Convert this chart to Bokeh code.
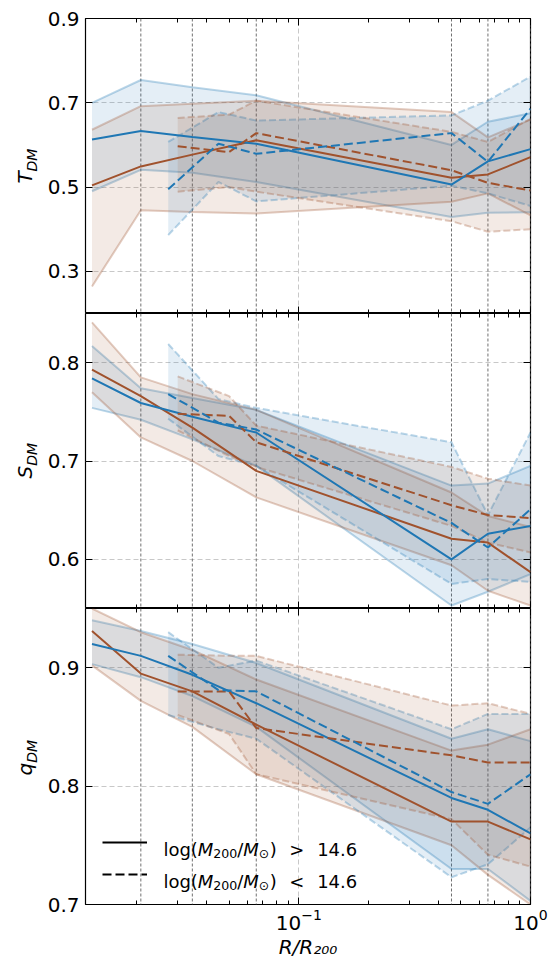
import numpy as np
from bokeh.plotting import figure
from bokeh.models import (LogAxis, LinearAxis, FixedTicker, LogTickFormatter, Span,
                          Legend, LegendItem, Label)
from bokeh.core.properties import value
from bokeh.layouts import column, row
from bokeh.embed import file_html
from bokeh.resources import INLINE

# ---------------- data ----------------
x_range = (0.012, 1.0)
x_major = [0.01, 0.1, 1.0]
x_minor = [0.02, 0.03, 0.04, 0.05, 0.06, 0.07, 0.08, 0.09,
           0.2, 0.3, 0.4, 0.5, 0.6, 0.7, 0.8, 0.9]
r_marks = [0.0208, 0.0347, 0.0655, 0.456, 0.655, 1.0]

r_solid = [0.0128, 0.0208, 0.0347, 0.0655, 0.456, 0.655, 1.0]
r_blue_dash = [0.0273, 0.045, 0.0655, 0.456, 0.655, 1.0]
r_brown_dash = [0.030, 0.050, 0.0655, 0.456, 0.655, 1.0]

# T_DM
T_blue_solid = [0.613, 0.633, 0.619, 0.603, 0.506, 0.561, 0.590]
T_blue_solid_hi = [0.700, 0.754, 0.737, 0.718, 0.600, 0.655, 0.675]
T_blue_solid_lo = [0.490, 0.541, 0.534, 0.512, 0.429, 0.439, 0.440]
T_brown_solid = [0.504, 0.549, 0.577, 0.611, 0.522, 0.530, 0.571]
T_brown_solid_hi = [0.636, 0.692, 0.698, 0.705, 0.678, 0.618, 0.660]
T_brown_solid_lo = [0.264, 0.445, 0.441, 0.437, 0.465, 0.485, 0.433]
T_blue_dash = [0.495, 0.603, 0.579, 0.628, 0.560, 0.686]
T_blue_dash_hi = [0.607, 0.678, 0.658, 0.670, 0.705, 0.762]
T_blue_dash_lo = [0.386, 0.512, 0.466, 0.503, 0.485, 0.455]
T_brown_dash = [0.597, 0.583, 0.628, 0.540, 0.510, 0.492]
T_brown_dash_hi = [0.664, 0.672, 0.705, 0.631, 0.607, 0.662]
T_brown_dash_lo = [0.489, 0.500, 0.489, 0.419, 0.394, 0.400]

# S_DM
S_blue_solid = [0.784, 0.759, 0.745, 0.729, 0.600, 0.626, 0.634]
S_blue_solid_hi = [0.817, 0.774, 0.764, 0.752, 0.675, 0.677, 0.695]
S_blue_solid_lo = [0.754, 0.742, 0.722, 0.695, 0.553, 0.567, 0.585]
S_brown_solid = [0.793, 0.766, 0.734, 0.690, 0.621, 0.617, 0.587]
S_brown_solid_hi = [0.841, 0.785, 0.768, 0.752, 0.668, 0.644, 0.633]
S_brown_solid_lo = [0.770, 0.724, 0.700, 0.663, 0.594, 0.568, 0.553]
S_blue_dash = [0.768, 0.739, 0.732, 0.637, 0.612, 0.651]
S_blue_dash_hi = [0.819, 0.763, 0.754, 0.719, 0.645, 0.729]
S_blue_dash_lo = [0.743, 0.705, 0.695, 0.575, 0.580, 0.577]
S_brown_dash = [0.748, 0.746, 0.719, 0.655, 0.645, 0.642]
S_brown_dash_hi = [0.786, 0.766, 0.736, 0.694, 0.682, 0.675]
S_brown_dash_lo = [0.731, 0.705, 0.694, 0.634, 0.617, 0.607]

# q_DM
q_blue_solid = [0.920, 0.910, 0.894, 0.870, 0.790, 0.780, 0.760]
q_blue_solid_hi = [0.940, 0.931, 0.920, 0.904, 0.840, 0.848, 0.838]
q_blue_solid_lo = [0.903, 0.892, 0.876, 0.850, 0.730, 0.730, 0.703]
q_brown_solid = [0.931, 0.895, 0.880, 0.852, 0.770, 0.770, 0.755]
q_brown_solid_hi = [0.950, 0.930, 0.915, 0.890, 0.830, 0.835, 0.848]
q_brown_solid_lo = [0.902, 0.872, 0.850, 0.810, 0.750, 0.725, 0.700]
q_blue_dash = [0.910, 0.881, 0.880, 0.795, 0.785, 0.810]
q_blue_dash_hi = [0.930, 0.900, 0.906, 0.848, 0.861, 0.861]
q_blue_dash_lo = [0.860, 0.848, 0.840, 0.723, 0.734, 0.765]
q_brown_dash = [0.880, 0.880, 0.849, 0.826, 0.820, 0.820]
q_brown_dash_hi = [0.911, 0.910, 0.910, 0.868, 0.870, 0.861]
q_brown_dash_lo = [0.860, 0.844, 0.810, 0.772, 0.742, 0.732]

T_ylim = (0.2, 0.9)
S_ylim = (0.55, 0.85)
q_ylim = (0.7, 0.95)
T_ticks = [0.3, 0.5, 0.7, 0.9]
S_ticks = [0.6, 0.7, 0.8]
q_ticks = [0.7, 0.8, 0.9]

x_title = "R/R₂₀₀"
legend_relations = [">", "<"]
legend_threshold = "14.6"

# ---------------- style / layout constants ----------------
BLUE = "#1f77b4"
BROWN = "#a0522d"
FONT = "DejaVu Sans"
DASH = "9 4"
EDGE_DASH = "7 3"

STRIP_W = 44          # left strip holding the y-axis titles
BORDER_L = 40         # frame starts at 84 px
BORDER_R = 20
FRAME_W = 446
FRAME_H = 295
TOTAL_H = 961
P3_BOTTOM = TOTAL_H - (18 + FRAME_H) - FRAME_H - (FRAME_H + 1)


def style_axis(ax, show_labels):
    ax.axis_line_color = None
    ax.major_tick_in = 7
    ax.major_tick_out = 0
    ax.minor_tick_in = 4
    ax.minor_tick_out = 0
    ax.major_tick_line_color = "black"
    ax.minor_tick_line_color = "black"
    ax.major_tick_line_width = 1
    ax.minor_tick_line_width = 1
    if show_labels:
        ax.major_label_text_font = FONT
        ax.major_label_text_font_size = "20px"
        ax.major_label_text_color = "black"
    else:
        ax.major_label_text_font_size = "0px"
        ax.major_label_text_color = None
        ax.major_label_standoff = 0


def x_ticker():
    return FixedTicker(ticks=x_major, minor_ticks=x_minor)


def make_panel(ylim, yticks, border_top, border_bottom, frame_h, xlabels):
    p = figure(width=BORDER_L + FRAME_W + BORDER_R,
               height=border_top + frame_h + border_bottom,
               x_axis_type="log", x_range=x_range, y_range=ylim,
               output_backend="svg", toolbar_location=None,
               min_border_left=BORDER_L, min_border_right=BORDER_R,
               min_border_top=border_top, min_border_bottom=border_bottom)
    p.outline_line_color = "black"
    p.outline_line_width = 1.2
    p.background_fill_color = "white"
    p.border_fill_color = "white"

    left = p.left[0]
    left.ticker = FixedTicker(ticks=yticks, minor_ticks=[])
    style_axis(left, True)
    left.major_label_standoff = 6

    bottom = p.below[0]
    bottom.ticker = x_ticker()
    bottom.formatter = LogTickFormatter()
    style_axis(bottom, xlabels)
    if xlabels:
        bottom.major_label_standoff = 4

    top = LogAxis(ticker=x_ticker())
    style_axis(top, False)
    p.add_layout(top, "above")
    right = LinearAxis(ticker=FixedTicker(ticks=yticks, minor_ticks=[]))
    style_axis(right, False)
    p.add_layout(right, "right")

    for g in (p.xgrid[0], p.ygrid[0]):
        g.grid_line_color = "#c8c8c8"
        g.grid_line_dash = "5 3"
        g.grid_line_width = 1

    for xm in r_marks:
        p.add_layout(Span(location=xm, dimension="height", line_color="#707070",
                          line_dash="3 2", line_width=1, level="underlay"))
    return p


def draw_band(p, xs, lo, hi, color, dash):
    p.varea(x=xs, y1=lo, y2=hi, fill_color=color, fill_alpha=0.12)
    ld = EDGE_DASH if dash else "solid"
    p.line(xs, hi, line_color=color, line_alpha=0.3, line_width=2, line_dash=ld)
    p.line(xs, lo, line_color=color, line_alpha=0.3, line_width=2, line_dash=ld)


def draw_median(p, xs, med, color, dash):
    p.line(xs, med, line_color=color, line_width=2,
           line_dash=DASH if dash else "solid")


def fill_panel(p, bs, bs_lo, bs_hi, rs, rs_lo, rs_hi,
               bd, bd_lo, bd_hi, rd, rd_lo, rd_hi):
    draw_band(p, r_solid, bs_lo, bs_hi, BLUE, False)
    draw_band(p, r_solid, rs_lo, rs_hi, BROWN, False)
    draw_band(p, r_blue_dash, bd_lo, bd_hi, BLUE, True)
    draw_band(p, r_brown_dash, rd_lo, rd_hi, BROWN, True)
    draw_median(p, r_solid, rs, BROWN, False)
    draw_median(p, r_solid, bs, BLUE, False)
    draw_median(p, r_brown_dash, rd, BROWN, True)
    draw_median(p, r_blue_dash, bd, BLUE, True)


p1 = make_panel(T_ylim, T_ticks, 18, 0, FRAME_H, False)
fill_panel(p1, T_blue_solid, T_blue_solid_lo, T_blue_solid_hi,
           T_brown_solid, T_brown_solid_lo, T_brown_solid_hi,
           T_blue_dash, T_blue_dash_lo, T_blue_dash_hi,
           T_brown_dash, T_brown_dash_lo, T_brown_dash_hi)

p2 = make_panel(S_ylim, S_ticks, 0, 0, FRAME_H, False)
fill_panel(p2, S_blue_solid, S_blue_solid_lo, S_blue_solid_hi,
           S_brown_solid, S_brown_solid_lo, S_brown_solid_hi,
           S_blue_dash, S_blue_dash_lo, S_blue_dash_hi,
           S_brown_dash, S_brown_dash_lo, S_brown_dash_hi)

p3 = make_panel(q_ylim, q_ticks, 0, P3_BOTTOM, FRAME_H + 1, True)
fill_panel(p3, q_blue_solid, q_blue_solid_lo, q_blue_solid_hi,
           q_brown_solid, q_brown_solid_lo, q_brown_solid_hi,
           q_blue_dash, q_blue_dash_lo, q_blue_dash_hi,
           q_brown_dash, q_brown_dash_lo, q_brown_dash_hi)
xax = p3.below[0]
xax.axis_label = x_title
xax.axis_label_text_font = FONT
xax.axis_label_text_font_size = "20px"
xax.axis_label_text_font_style = "italic"
xax.axis_label_text_color = "black"
xax.axis_label_standoff = 2

# ---- legend: line samples through Legend, texts composed as text glyphs ----
nan_y = [np.nan] * len(r_solid)
leg_solid = p3.line(x=r_solid, y=nan_y, line_color="black", line_width=2)
leg_dash = p3.line(x=r_solid, y=nan_y, line_color="black", line_width=2,
                   line_dash=DASH)
legend = Legend(items=[LegendItem(label=" ", renderers=[leg_solid]),
                       LegendItem(label=" ", renderers=[leg_dash])],
                location=(17, 14), padding=0, margin=0, spacing=0,
                glyph_width=45, glyph_height=32, label_height=32,
                label_width=1, label_standoff=2, border_line_color=None,
                background_fill_alpha=0, label_text_font=FONT,
                label_text_font_size="16px")
p3.add_layout(legend)


def px_to_x(cx):
    # canvas pixel (frame starts at 84, one decade = 232 px) -> data x
    return 10 ** (np.log10(x_range[0]) + (cx - 84) / 232.0)


def px_to_q(cy):
    # canvas pixel -> q data value (frame bottom at 905)
    return q_ylim[0] + (905 - cy) * (q_ylim[1] - q_ylim[0]) / (FRAME_H + 1)


def legend_text(row_baseline, rel):
    pieces = [
        ("log(", 162, 0, "18px", "normal"),
        ("M", 196.5, 0, "18px", "italic"),
        ("200", 212, 4, "12.6px", "normal"),
        ("/", 236, 0, "18px", "normal"),
        ("M", 242, 0, "18px", "italic"),
        ("⊙", 257.6, 4, "12.6px", "normal"),
        (")", 268.5, 0, "18px", "normal"),
        (rel, 288, 0, "18px", "normal"),
        (legend_threshold, 316, 0, "18px", "normal"),
    ]
    for txt, cx, dy, fs, st in pieces:
        p3.text(x=[px_to_x(cx)], y=[px_to_q(row_baseline + dy)], text=[txt],
                text_font=value(FONT), text_font_size=fs, text_font_style=st,
                text_color="black", text_align="left",
                text_baseline="alphabetic")


legend_text(850, legend_relations[0])
legend_text(882, legend_relations[1])

# ---- strip with the rotated y titles (centre anchored) ----
ylab = figure(width=STRIP_W, height=TOTAL_H, x_range=(0, STRIP_W),
              y_range=(TOTAL_H, 0), output_backend="svg", toolbar_location=None,
              x_axis_location=None, y_axis_location=None, min_border=0,
              title=None)
ylab.outline_line_color = None
ylab.grid.visible = False
ylab_titles = [("T", 177.0, 159.5), ("S", 471.6, 453.9), ("q", 768.6, 750.9)]
for main, y_main, y_sub in ylab_titles:
    ylab.add_layout(Label(x=24.8, y=y_main, text=main, angle=np.pi / 2,
                          text_font=FONT, text_font_style="italic",
                          text_font_size="20px", text_color="black",
                          text_align="center", text_baseline="middle"))
    ylab.add_layout(Label(x=31.4, y=y_sub, text="DM", angle=np.pi / 2,
                          text_font=FONT, text_font_style="italic",
                          text_font_size="14px", text_color="black",
                          text_align="center", text_baseline="middle"))

layout = row(ylab, column(p1, p2, p3, spacing=0), spacing=0)
open("out.html", "w").write(file_html(layout, INLINE))
